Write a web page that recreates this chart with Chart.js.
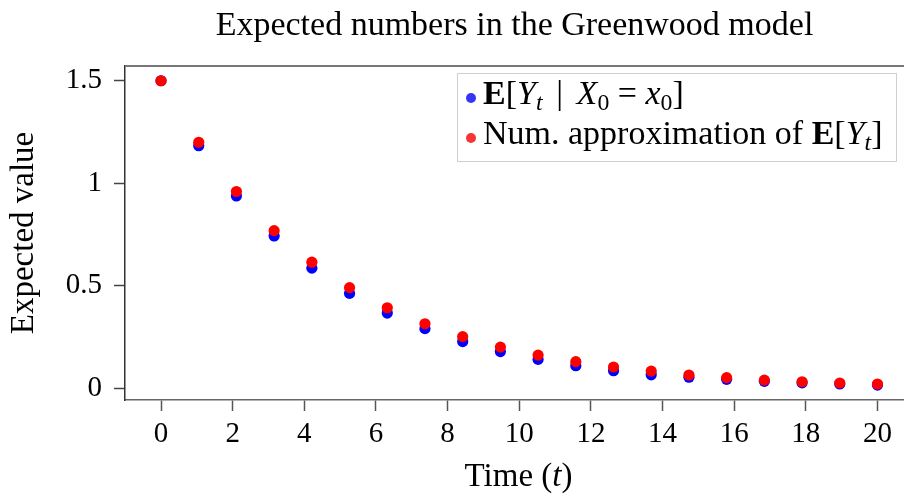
<!DOCTYPE html>
<html>
<head>
<meta charset="utf-8">
<script src="https://cdn.jsdelivr.net/npm/chart.js@4.4.1/dist/chart.umd.min.js"></script>
<style>
  html, body { margin: 0; padding: 0; background: #fff; }
  #wrap { position: relative; width: 904px; height: 494px; }
  #legend {
    position: absolute; left: 457px; top: 73px; width: 438px; height: 87px;
    border: 1px solid #cfcfcf; background: rgba(255,255,255,0.85);
    font-family: "Liberation Serif", serif; font-size: 34px; color: #000;
  }
  .row { position: absolute; left: 0; height: 40px; line-height: 40px; white-space: nowrap; }
  .dot { position: absolute; left: 8px; top: 19px; width: 10px; height: 10px; border-radius: 50%; }
  .txt { position: absolute; left: 25px; top: -1px; }
  .sub { font-size: 0.7em; vertical-align: -0.25em; line-height: 0; font-style: italic; }
  .sub.n { font-style: normal; }
</style>
</head>
<body>
<div id="wrap">
  <canvas id="chart" width="904" height="494"></canvas>
  <div id="legend">
    <div class="row" style="top:0px">
      <span class="dot" style="background:#3535f5"></span>
      <span class="txt"><b>E</b>[<i>Y</i><span class="sub">t</span>&#8201;&#8201;|&#8201;&#8201;<i>X</i><span class="sub n">0</span> = <i>x</i><span class="sub n">0</span>]</span>
    </div>
    <div class="row" style="top:40px">
      <span class="dot" style="background:#f53535"></span>
      <span class="txt">Num. approximation of <b>E</b>[<i>Y</i><span class="sub">t</span>]</span>
    </div>
  </div>
</div>
<script>
// time points
const times = [0, 1.053, 2.105, 3.158, 4.211, 5.263, 6.316, 7.368, 8.421, 9.474,
               10.526, 11.579, 12.632, 13.684, 14.737, 15.789, 16.842, 17.895, 18.947, 20]

// E[Y_t | X_0 = x_0]
const exactValues = [1.5, 1.183, 0.938, 0.743, 0.586, 0.463, 0.367, 0.291, 0.228, 0.179,
                     0.141, 0.110, 0.086, 0.066, 0.054, 0.044, 0.034, 0.027, 0.021, 0.016]

// numerical approximation of E[Y_t]
const approxValues = [1.5, 1.200, 0.960, 0.769, 0.615, 0.491, 0.393, 0.315, 0.252, 0.201,
                      0.162, 0.130, 0.104, 0.084, 0.065, 0.052, 0.040, 0.032, 0.026, 0.021]

const xTicks = [0, 2, 4, 6, 8, 10, 12, 14, 16, 18, 20]
const yTicks = [0, 0.5, 1, 1.5]

const serif = '"Liberation Serif", serif'

const toPoints = (values) => times.map((t, i) => ({ x: t, y: values[i] }))

// top frame line + x axis title with italic t
const extras = {
    id: 'extras',
    afterDraw(chart) {
        const { ctx, chartArea } = chart
        ctx.save()
        ctx.strokeStyle = '#777'
        ctx.lineWidth = 2
        ctx.beginPath()
        ctx.moveTo(chartArea.left, chartArea.top)
        ctx.lineTo(chartArea.right, chartArea.top)
        ctx.stroke()

        // "Time (t)"
        const parts = [
            { text: 'Time (', font: `33px ${serif}` },
            { text: 't', font: `italic 33px ${serif}` },
            { text: ')', font: `33px ${serif}` }
        ]
        let total = 0
        parts.forEach(p => { ctx.font = p.font; p.w = ctx.measureText(p.text).width; total += p.w })
        let x = (chartArea.left + chartArea.right) / 2 + 4 - total / 2
        ctx.fillStyle = '#000'
        ctx.textBaseline = 'alphabetic'
        ctx.textAlign = 'left'
        parts.forEach(p => { ctx.font = p.font; ctx.fillText(p.text, x, 486); x += p.w })
        ctx.restore()
    }
}

const ctx = document.getElementById('chart').getContext('2d')

new Chart(ctx, {
    type: 'scatter',
    data: {
        datasets: [
            {
                label: 'E[Y_t | X_0 = x_0]',
                data: toPoints(exactValues),
                backgroundColor: '#0000ff',
                borderWidth: 0,
                pointRadius: 5.6,
                order: 1
            },
            {
                label: 'Num. approximation of E[Y_t]',
                data: toPoints(approxValues),
                backgroundColor: '#ff0000',
                borderWidth: 0,
                pointRadius: 5.6,
                order: 0
            }
        ]
    },
    options: {
        responsive: false,
        animation: false,
        devicePixelRatio: 1,
        layout: { padding: 0, autoPadding: false },
        plugins: {
            legend: { display: false },
            tooltip: { enabled: false },
            title: {
                display: true,
                fullSize: false,
                text: 'Expected numbers in the Greenwood model',
                color: '#000',
                font: { family: serif, size: 34, weight: 'normal', lineHeight: 1.2 },
                padding: { top: 6, bottom: 19.2 }
            }
        },
        scales: {
            x: {
                type: 'linear',
                min: -1.005,
                max: 20.74,
                afterFit: (scale) => {
                    scale.height = 94
                    scale.paddingLeft = 0
                    scale.paddingRight = 0
                },
                afterBuildTicks: (scale) => { scale.ticks = xTicks.map(v => ({ value: v })) },
                ticks: {
                    color: '#000',
                    padding: 6,
                    font: { family: serif, size: 29 }
                },
                grid: { display: true, drawOnChartArea: false, drawTicks: true, tickLength: 11, tickColor: '#555', tickWidth: 1.5 },
                border: { display: true, color: '#666', width: 1.5 },
                title: { display: false }
            },
            y: {
                type: 'linear',
                min: -0.057,
                max: 1.572,
                afterFit: (scale) => {
                    scale.width = 125
                    scale.paddingTop = 0
                    scale.paddingBottom = 0
                },
                afterBuildTicks: (scale) => { scale.ticks = yTicks.map(v => ({ value: v })) },
                ticks: {
                    color: '#000',
                    padding: 12,
                    font: { family: serif, size: 29 },
                    callback: (value) => String(value)
                },
                grid: { display: true, drawOnChartArea: false, drawTicks: true, tickLength: 11, tickColor: '#444', tickWidth: 1.5 },
                border: { display: true, color: '#333', width: 1.5 },
                title: {
                    display: true,
                    text: 'Expected value',
                    color: '#000',
                    font: { family: serif, size: 33, lineHeight: 1.2 },
                    padding: { top: 5, bottom: 0 }
                }
            }
        }
    },
    plugins: [extras]
})
</script>
</body>
</html>
